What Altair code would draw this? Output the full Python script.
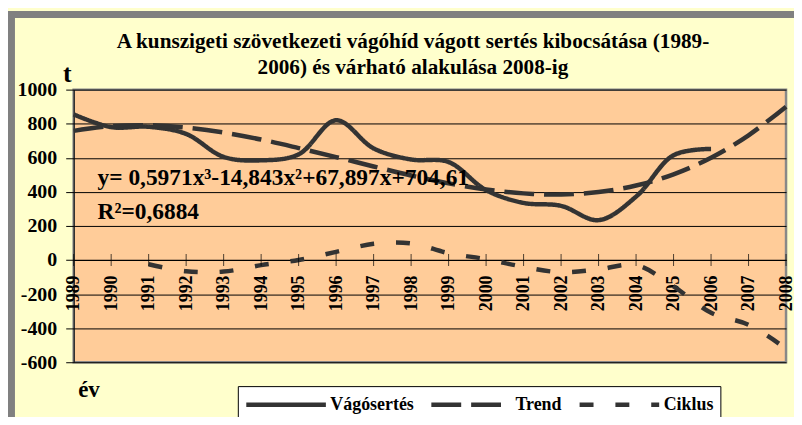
import altair as alt
import pandas as pd

# ---- data ----
years = list(range(1989, 2009))
vagosertes = [855, 780, 782, 740, 605, 585, 620, 820, 655, 590, 575, 410,
              335, 318, 234, 372, 615, 652, None, None]
trend = [758, 786, 791, 777, 748, 707, 657, 604, 549, 496, 450, 414,
         391, 384, 399, 437, 503, 600, 732, 900]
ciklus = [None, None, -25, -66, -68, -30, 0, 48, 95, 98, 40, 5,
          -40, -72, -55, -30, -155, -310, -380, -520]
series_names = ["Vágósertés", "Trend", "Ciklus"]
y_ticks = [-600, -400, -200, 0, 200, 400, 600, 800, 1000]
title_lines = ["A kunszigeti szövetkezeti vágóhíd vágott sertés kibocsátása (1989-",
               "2006) és várható alakulása 2008-ig"]
equation_lines = ["y= 0,5971x³-14,843x²+67,897x+704,61", "R²=0,6884"]

rows = []
for name, vals in zip(series_names, [vagosertes, trend, ciklus]):
    for yr, v in zip(years, vals):
        if v is not None:
            rows.append({"ev": yr, "ertek": v, "sor": name})
df = pd.DataFrame(rows)
df_years = pd.DataFrame({"ev": years})
one = pd.DataFrame({"a": [0]})

W, H = 716, 274
FONT = "Liberation Serif"
INK = "#333333"

x_scale = alt.Scale(domain=[1989, 2008], nice=False, zero=False)
y_scale = alt.Scale(domain=[-600, 1000], nice=False)

lines = alt.Chart(df).mark_line(
    interpolate="catmull-rom", strokeWidth=4.5, strokeCap="butt"
).encode(
    x=alt.X("ev:Q", scale=x_scale,
            axis=alt.Axis(values=years, tickCount=len(years) + 2, format="d",
                          labelAngle=270, labelAlign="right", labelBaseline="middle",
                          labelPadding=15, labelOverlap=False, ticks=False,
                          grid=False, domainColor="black", domainWidth=1,
                          offset=-(H * 600 / 1600),
                          labelFont=FONT, labelFontSize=18, labelFontWeight="bold",
                          labelColor="black",
                          title="év", titleFont=FONT, titleFontSize=23,
                          titleFontWeight="bold", titleColor="black",
                          titleAlign="left", titleBaseline="alphabetic",
                          titleAngle=0, titleX=4, titleY=137)),
    y=alt.Y("ertek:Q", scale=y_scale,
            axis=alt.Axis(values=y_ticks, tickCount=len(y_ticks) + 2,
                          labelExpr="'' + datum.value",
                          labelOverlap=False,
                          grid=True, gridColor="black", gridWidth=1,
                          domainColor="black", tickColor="black", tickSize=8,
                          labelPadding=9,
                          labelFont=FONT, labelFontSize=20, labelFontWeight="bold",
                          labelColor="black",
                          title="t", titleFont=FONT, titleFontSize=26,
                          titleFontWeight="bold", titleColor="black",
                          titleAngle=0, titleAlign="center",
                          titleBaseline="alphabetic", titleX=-7, titleY=-8)),
    color=alt.Color("sor:N", sort=series_names,
                    scale=alt.Scale(domain=series_names, range=[INK, INK, INK]),
                    legend=alt.Legend(title=None)),
    strokeDash=alt.StrokeDash("sor:N", sort=series_names,
                              scale=alt.Scale(domain=series_names,
                                              range=[[1, 0], [30, 10], [14, 22]]),
                              legend=alt.Legend(title=None)),
)

ticks = alt.Chart(df_years).mark_tick(
    orient="vertical", size=12, thickness=1, color="black"
).encode(
    x=alt.X("ev:Q", scale=x_scale),
    y=alt.datum(0),
)

equation = alt.Chart(one).mark_text(
    text=equation_lines, align="left", baseline="alphabetic",
    font=FONT, fontSize=23.5, fontWeight="bold", color="black", lineHeight=34
).encode(x=alt.value(24), y=alt.value(96))

title = alt.Chart(one).mark_text(
    text=title_lines, align="center", baseline="alphabetic",
    font=FONT, fontSize=21.3, fontWeight="bold", color="black", lineHeight=26
).encode(x=alt.value(341), y=alt.value(-42))

frame_left = alt.Chart(one).mark_rule(
    color="#808080", strokeWidth=7, clip=False
).encode(x=alt.value(-62.5), y=alt.value(-79), y2=alt.value(H + 60))

frame_top = alt.Chart(one).mark_rule(
    color="#808080", strokeWidth=7, clip=False
).encode(x=alt.value(-66), x2=alt.value(W + 20), y=alt.value(-75.5))

chart = alt.layer(lines, ticks, equation, title, frame_left, frame_top).properties(
    width=W, height=H,
    background="#FFFFCC",
    autosize=alt.AutoSizeParams(type="none"),
    padding={"left": 66, "top": 81, "right": 8, "bottom": 54},
).configure_view(
    fill="#FFCC99", stroke="#888888", strokeWidth=2.5
).configure_legend(
    orient="none", legendX=165, legendY=298, direction="horizontal",
    fillColor="white", strokeColor="black", padding=6,
    symbolType="M-4,0H4", symbolSize=400, symbolStrokeWidth=4.5,
    symbolOffset=30, gridAlign="each",
    labelFont=FONT, labelFontSize=18, labelFontWeight="bold", labelColor="black",
    labelOffset=32, columnPadding=8, labelLimit=300
)

chart.save("out.html", embed_options={"renderer": "svg", "actions": False})
